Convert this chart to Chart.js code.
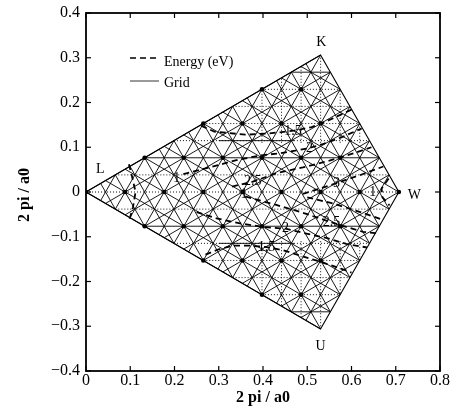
<!DOCTYPE html>
<html>
<head>
<meta charset="utf-8">
<title>L-K-W-U face, energy contours</title>
<script src="https://cdn.jsdelivr.net/npm/chart.js@4.4.1/dist/chart.umd.min.js"></script>
<style>
  html, body { margin: 0; padding: 0; background: #fff; }
  canvas { display: block; }
</style>
</head>
<body>
<canvas id="bz" width="452" height="415"></canvas>
<script>
// corners of the zone face, units of 2 pi / a0
const cornerNames = ["L", "K", "W", "U"];
const cornerX = [0, 0.53, 0.707, 0.53];
const cornerY = [0, 0.306, 0, -0.306];
const cornerLabelX = [0.032, 0.532, 0.742, 0.53];
const cornerLabelY = [0.05, 0.334, -0.008, -0.345];

// mesh: 16 steps along L-W, 8 rows from L up to K
const meshSteps = 16;
const meshRows = 8;

const xTicks = [0, 0.1, 0.2, 0.3, 0.4, 0.5, 0.6, 0.7, 0.8];
const yTicks = [-0.4, -0.3, -0.2, -0.1, 0, 0.1, 0.2, 0.3, 0.4];

// energy contours, [x, y]
const energy1L = [[0.097, 0.062], [0.104, 0.035], [0.112, 0.0], [0.106, -0.035], [0.098, -0.062]];
const energy1W = [[0.684, 0.03], [0.668, 0.008], [0.67, -0.012], [0.686, -0.03]];
const energy15Up = [[0.26, 0.148], [0.29, 0.135], [0.36, 0.128], [0.415, 0.131], [0.47, 0.137], [0.51, 0.145], [0.55, 0.161], [0.60, 0.184]];
const energy2Up = [[0.22, 0.04], [0.26, 0.05], [0.29, 0.058], [0.34, 0.071], [0.39, 0.081], [0.44, 0.087], [0.50, 0.097], [0.535, 0.107], [0.577, 0.122], [0.623, 0.142]];
const energy25Up = [[0.33, 0.012], [0.377, 0.023], [0.43, 0.042], [0.49, 0.055], [0.55, 0.07], [0.60, 0.085], [0.645, 0.1]];
const energy3Up = [[0.49, -0.004], [0.53, 0.008], [0.566, 0.02], [0.62, 0.038], [0.672, 0.057]];
const energy3Low = [[0.50, -0.012], [0.56, -0.026], [0.62, -0.045], [0.67, -0.062]];
const energy25Low = [[0.36, -0.01], [0.43, -0.029], [0.483, -0.044], [0.528, -0.059], [0.555, -0.068], [0.588, -0.078], [0.626, -0.089], [0.655, -0.092]];
const energy2Low = [[0.25, -0.045], [0.295, -0.059], [0.348, -0.07], [0.40, -0.078], [0.451, -0.082], [0.498, -0.093], [0.545, -0.103], [0.588, -0.116], [0.635, -0.124]];
const energy15Low = [[0.27, -0.14], [0.30, -0.128], [0.333, -0.12], [0.37, -0.12], [0.408, -0.123], [0.445, -0.13], [0.483, -0.142], [0.52, -0.153], [0.558, -0.165], [0.60, -0.18]];
const contours = [energy1L, energy1W, energy15Up, energy2Up, energy25Up, energy3Up, energy3Low, energy25Low, energy2Low, energy15Low];

const contourLabelText = ["1.5", "2", "2.5", "3", "1", "1", "1", "2.5", "2", "1.5"];
const contourLabelX = [0.468, 0.505, 0.377, 0.566, 0.205, 0.357, 0.648, 0.555, 0.451, 0.408];
const contourLabelY = [0.135, 0.097, 0.023, 0.02, 0.03, -0.006, 0.0, -0.068, -0.082, -0.123];

const axisTitle = "2 pi / a0";
const serif = "'Liberation Serif', 'DejaVu Serif', serif";
const s = cornerX[2] / meshSteps;   // step along a row
const h = cornerY[1] / meshRows;    // row spacing

// clip an infinite line (point + t * dir) to the face, face outline runs clockwise
function clipToFace(px, py, dx, dy) {
  let t0 = -100, t1 = 100;
  for (let i = 0; i < 4; i++) {
    const ax = cornerX[i], ay = cornerY[i];
    const ex = cornerX[(i + 1) % 4] - ax, ey = cornerY[(i + 1) % 4] - ay;
    const c0 = -(ex * (py - ay) - ey * (px - ax));
    const c1 = -(ex * dy - ey * dx);
    if (Math.abs(c1) < 1e-12) {
      if (c0 < -1e-9) return null;
      continue;
    }
    const t = -c0 / c1;
    if (c1 > 0) t0 = Math.max(t0, t); else t1 = Math.min(t1, t);
  }
  const len = Math.hypot(dx, dy) * (t1 - t0);
  if (len < 1e-4) return null;
  return [px + t0 * dx, py + t0 * dy, px + t1 * dx, py + t1 * dy];
}

function pushSeg(list, seg) {
  if (!seg) return;
  list.push({ x: seg[0], y: seg[1] }, { x: seg[2], y: seg[3] }, { x: seg[2], y: null });
}

const solidGrid = [];
const dottedGrid = [];

// 60 degree lines through every step, 30 degree lines through every second step
for (let j = -40; j <= 60; j++) {
  pushSeg(solidGrid, clipToFace(j * s, 0, s / 2, h));
  pushSeg(solidGrid, clipToFace(j * s, 0, s / 2, -h));
}
for (let j = -20; j <= 30; j++) {
  pushSeg(solidGrid, clipToFace(2 * j * s, 0, 1.5 * s, h));
  pushSeg(solidGrid, clipToFace(2 * j * s, 0, 1.5 * s, -h));
}

// horizontal rows, dotted, a few of them solid
for (let k = -meshRows + 1; k < meshRows; k++) {
  const seg = clipToFace(0, k * h, 1, 0);
  if (Math.abs(k) === 2 || Math.abs(k) === 7) pushSeg(solidGrid, seg);
  else pushSeg(dottedGrid, seg);
  if (Math.abs(k) === 3) pushSeg(solidGrid, [0.30, k * h, 0.47, k * h]);
}

// vertical dotted lines near K and U
for (let m = 9; m <= 14; m++) {
  const seg = clipToFace(m * s, 0, 0, 1);
  if (!seg) continue;
  const top = Math.max(seg[1], seg[3]);
  if (top > 0.11) {
    pushSeg(dottedGrid, [m * s, 0.11, m * s, top]);
    pushSeg(dottedGrid, [m * s, -0.11, m * s, -top]);
  }
}

// coarse nodes
const nodes = [];
for (let k = -4; k <= 4; k++) {
  for (let n = 0; n <= meshSteps; n++) {
    if ((n - k) % 2 !== 0) continue;
    const px = n * s, py = 2 * h * k;
    const seg = clipToFace(px, py, 1, 0);
    if (seg && px >= Math.min(seg[0], seg[2]) - 1e-6 && px <= Math.max(seg[0], seg[2]) + 1e-6) {
      nodes.push({ x: px, y: py });
    }
  }
}

const outline = cornerX.map((x, i) => ({ x, y: cornerY[i] }));
outline.push({ x: cornerX[0], y: cornerY[0] });

const datasets = [
  { data: dottedGrid, borderColor: "#111", borderWidth: 1, borderDash: [1, 2] },
  { data: solidGrid, borderColor: "#000", borderWidth: 0.9 },
  { data: outline, borderColor: "#000", borderWidth: 1.1 }
];
contours.forEach(c => {
  datasets.push({
    data: c.map(p => ({ x: p[0], y: p[1] })),
    borderColor: "#000", borderWidth: 1.8, borderDash: [6, 4]
  });
});
datasets.push({ type: "scatter", data: nodes, pointRadius: 2.3, backgroundColor: "#000", borderWidth: 0, showLine: false });
datasets.forEach(d => {
  d.pointRadius = d.pointRadius || 0;
  d.tension = 0;
  d.fill = false;
  d.spanGaps = false;
});

function fmt(v) {
  const r = Math.round(v * 10) / 10;
  if (r === 0) return "0";
  return (r < 0 ? "\u2212" : "") + Math.abs(r).toFixed(1);
}

function strokeLine(ctx, x1, y1, x2, y2) {
  ctx.beginPath();
  ctx.moveTo(x1, y1);
  ctx.lineTo(x2, y2);
  ctx.stroke();
}

const faceDecor = {
  id: "faceDecor",
  afterDatasetsDraw(chart) {
    const { ctx, chartArea: a, scales: { x, y } } = chart;
    ctx.save();
    ctx.strokeStyle = "#000";
    ctx.fillStyle = "#000";

    // frame and inward ticks
    ctx.lineWidth = 1.8;
    ctx.strokeRect(a.left, a.top, a.right - a.left, a.bottom - a.top);
    ctx.lineWidth = 1.2;
    xTicks.forEach(v => {
      const px = x.getPixelForValue(v);
      strokeLine(ctx, px, a.bottom, px, a.bottom - 5);
      strokeLine(ctx, px, a.top, px, a.top + 5);
    });
    yTicks.forEach(v => {
      const py = y.getPixelForValue(v);
      strokeLine(ctx, a.left, py, a.left + 5, py);
      strokeLine(ctx, a.right, py, a.right - 5, py);
    });

    // tick labels
    ctx.font = "16px " + serif;
    ctx.textBaseline = "middle";
    ctx.textAlign = "right";
    yTicks.forEach(v => ctx.fillText(fmt(v), a.left - 6, y.getPixelForValue(v)));
    ctx.textAlign = "center";
    xTicks.forEach(v => ctx.fillText(fmt(v), x.getPixelForValue(v), a.bottom + 10));

    // axis titles
    ctx.font = "bold 16px " + serif;
    ctx.fillText(axisTitle, x.getPixelForValue(0.4), a.bottom + 27);
    ctx.save();
    ctx.translate(25, y.getPixelForValue(0) + 3);
    ctx.rotate(-Math.PI / 2);
    ctx.fillText(axisTitle, 0, 0);
    ctx.restore();

    // corner letters and contour labels
    ctx.font = "14px " + serif;
    cornerNames.forEach((n, i) => {
      ctx.fillText(n, x.getPixelForValue(cornerLabelX[i]), y.getPixelForValue(cornerLabelY[i]));
    });
    contourLabelText.forEach((t, i) => {
      ctx.fillText(t, x.getPixelForValue(contourLabelX[i]), y.getPixelForValue(contourLabelY[i]));
    });

    // legend
    ctx.textAlign = "left";
    ctx.lineWidth = 1.6;
    ctx.setLineDash([6, 4]);
    strokeLine(ctx, 130, 58, 159, 58);
    ctx.setLineDash([]);
    ctx.lineWidth = 0.8;
    strokeLine(ctx, 130, 81, 159, 81);
    ctx.fillText("Energy (eV)", 164, 62);
    ctx.fillText("Grid", 164, 83);
    ctx.restore();
  }
};

const ctx = document.getElementById("bz").getContext("2d");
const chart = new Chart(ctx, {
  type: "line",
  data: { datasets },
  options: {
    responsive: false,
    animation: false,
    events: [],
    layout: { padding: { top: 13, right: 12, left: 0, bottom: 0 } },
    plugins: { legend: { display: false }, tooltip: { enabled: false } },
    scales: {
      x: {
        type: "linear", min: 0, max: 0.8,
        grid: { display: false }, border: { display: false },
        ticks: { display: false, stepSize: 0.1 },
        afterFit: sc => { sc.height = 44; }
      },
      y: {
        type: "linear", min: -0.4, max: 0.4,
        grid: { display: false }, border: { display: false },
        ticks: { display: false, stepSize: 0.1 },
        afterFit: sc => { sc.width = 86; }
      }
    }
  },
  plugins: [faceDecor]
});
</script>
</body>
</html>
